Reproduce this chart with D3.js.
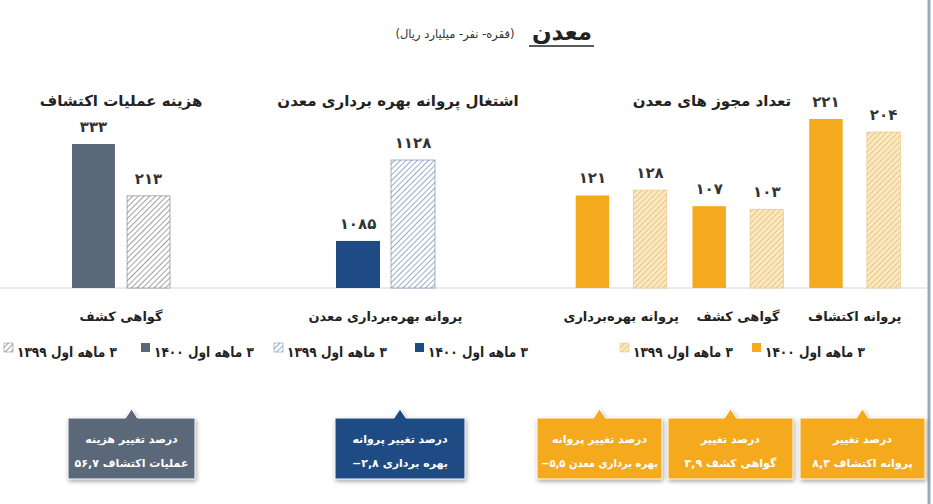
<!DOCTYPE html>
<html><head><meta charset="utf-8">
<script src="https://cdn.jsdelivr.net/npm/d3@7"></script>
<style>body{margin:0;background:#fff}text{font-family:"DejaVu Sans",sans-serif;font-weight:bold;direction:rtl;unicode-bidi:embed}</style>
</head><body>
<svg id="c" width="933" height="504"></svg>
<script>
const seriesNames = ["۳ ماهه اول ۱۴۰۰", "۳ ماهه اول ۱۳۹۹"];
const licCategories = ["پروانه بهره‌برداری", "گواهی کشف", "پروانه اکتشاف"];
const lic1400 = [121, 107, 221];
const lic1399 = [128, 103, 204];
const empCategories = ["پروانه بهره‌برداری معدن"];
const emp1400 = [1085];
const emp1399 = [1128];
const costCategories = ["گواهی کشف"];
const cost1400 = [333];
const cost1399 = [213];
const panelTitles = ["تعداد مجوز های معدن", "اشتغال پروانه بهره برداری معدن", "هزینه عملیات اکتشاف"];
const callouts = [
  {l1:"درصد تغییر", l2:"پروانه اکتشاف ۸,۳", c:"#F5AA1E"},
  {l1:"درصد تغییر", l2:"گواهی کشف  ۳,۹", c:"#F5AA1E"},
  {l1:"درصد تغییر پروانه", l2:"بهره برداری معدن  ۵,۵−", c:"#F5AA1E"},
  {l1:"درصد تغییر پروانه", l2:"بهره برداری ۲,۸−", c:"#1F4B84"},
  {l1:"درصد تغییر هزینه", l2:"عملیات اکتشاف ۵۶,۷", c:"#5A687A"}
];
const fa = n => String(n).replace(/\d/g, d => "۰۱۲۳۴۵۶۷۸۹"[d]);

const svg = d3.select("#c");
const defs = svg.append("defs");
function hatch(id, bg, fg){
  const p = defs.append("pattern").attr("id", id).attr("patternUnits","userSpaceOnUse")
    .attr("width",4).attr("height",4).attr("patternTransform","rotate(45)");
  p.append("rect").attr("width",4).attr("height",4).attr("fill",bg);
  p.append("line").attr("x1",0).attr("y1",0).attr("x2",0).attr("y2",4).attr("stroke",fg).attr("stroke-width",1.3);
}
hatch("hO","#FBE9C4","#E2B25A");
hatch("hB","#ffffff","#5E80AC");
hatch("hG","#ffffff","#6E6E6E");

const base = 288;
svg.append("line").attr("x1",929).attr("x2",929).attr("y1",0).attr("y2",504).attr("stroke","#9AA9BA").attr("stroke-width",3);
svg.append("line").attr("x1",0).attr("x2",927).attr("y1",base).attr("y2",base).attr("stroke","#E3E3E3").attr("stroke-width",1.5);

svg.append("text").attr("x",562).attr("y",40).attr("text-anchor","middle").attr("font-size",23).attr("fill","#222").text("معدن");
svg.append("line").attr("x1",529).attr("x2",594).attr("y1",46).attr("y2",46).attr("stroke","#222").attr("stroke-width",1.5);
svg.append("text").attr("x",455).attr("y",38).attr("text-anchor","middle").attr("font-size",11.5).attr("fill","#333").style("font-weight","normal").text("(فقره- نفر- میلیارد ریال)");

function fit(t, w){ t.attr("textLength", w).attr("lengthAdjust","spacingAndGlyphs"); }
function panel(cfg){
  const x = d3.scaleBand().domain(cfg.cats).range(cfg.xr).padding(cfg.pad);
  const xs = d3.scaleBand().domain([0,1]).range([0, x.bandwidth()]).paddingInner(cfg.inner);
  const y = d3.scaleLinear().domain(cfg.dom).range([base, base - cfg.h]);
  const g = svg.append("g");
  cfg.cats.forEach((c,i) => {
    [cfg.s1[i], cfg.s2[i]].forEach((v,k) => {
      const bx = x(c) + xs(k);
      g.append("rect").attr("x",bx).attr("y",y(v)).attr("width",xs.bandwidth()).attr("height",base - y(v))
        .attr("fill", k===0 ? cfg.col : "url(#"+cfg.hatch+")").attr("stroke", k===0 ? "none" : cfg.edge).attr("stroke-width",0.6);
      g.append("text").attr("x",bx + xs.bandwidth()/2).attr("y",y(v)-12).attr("text-anchor","middle")
        .attr("font-size",15).attr("fill","#333").text(fa(v));
    });
    g.append("text").attr("x",x(c)+x.bandwidth()/2).attr("y",321).attr("text-anchor","middle")
      .attr("font-size",13).attr("fill","#222").text(c);
  });
  g.append("text").attr("x",cfg.tx).attr("y",106).attr("text-anchor","middle").attr("font-size",15).attr("fill","#222").text(cfg.title);
  cfg.leg.forEach((lx,k) => {
    g.append("rect").attr("x",lx).attr("y",343).attr("width",9).attr("height",9)
      .attr("fill", k===0 ? cfg.col : "url(#"+cfg.hatch+")").attr("stroke", k===0?"none":cfg.edge).attr("stroke-width",0.5);
    const t = g.append("text").attr("x",lx + 13 + 50).attr("y",357).attr("text-anchor","middle").attr("font-size",14).attr("fill","#222").text(seriesNames[k]);
    fit(t, 100);
  });
}
panel({cats:licCategories, s1:lic1400, s2:lic1399, xr:[550,926], pad:0.22, inner:0.42, dom:[0,221], h:169,
  col:"#F5AA1E", hatch:"hO", edge:"#E8C27A", title:panelTitles[0], tx:712, leg:[752,620]});
panel({cats:empCategories, s1:emp1400, s2:emp1399, xr:[336,435], pad:0, inner:0.2, dom:[1060,1128], h:128,
  col:"#1F4B84", hatch:"hB", edge:"#5E80AC", title:panelTitles[1], tx:398, leg:[415,274]});
panel({cats:costCategories, s1:cost1400, s2:cost1399, xr:[72,170], pad:0, inner:0.22, dom:[0,333], h:144,
  col:"#5A687A", hatch:"hG", edge:"#777", title:panelTitles[2], tx:121, leg:[141,4]});

const boxX = [800, 668, 537, 335, 68], boxW = [125,125,125,130,127];
callouts.forEach((c,i) => {
  const x0 = boxX[i], w = boxW[i], top = 418, bot = 479, cx = x0 + w/2;
  svg.append("path").attr("d",`M${x0},${top}H${cx-6}L${cx},${top-9}L${cx+6},${top}H${x0+w}V${bot}H${x0}Z`)
    .attr("fill",c.c).attr("stroke","#fff").attr("stroke-width",1).style("filter","drop-shadow(1px 2px 2px rgba(0,0,0,0.35))");
  svg.append("text").attr("x",cx).attr("y",443).attr("text-anchor","middle").attr("font-size",11).attr("fill","#fff").text(c.l1);
  const t2 = svg.append("text").attr("x",cx).attr("y",467).attr("text-anchor","middle").attr("font-size",11).attr("fill","#fff").text(c.l2);
  if (t2.node().getComputedTextLength() > w - 8) fit(t2, w - 8);
});
</script>
</body></html>
